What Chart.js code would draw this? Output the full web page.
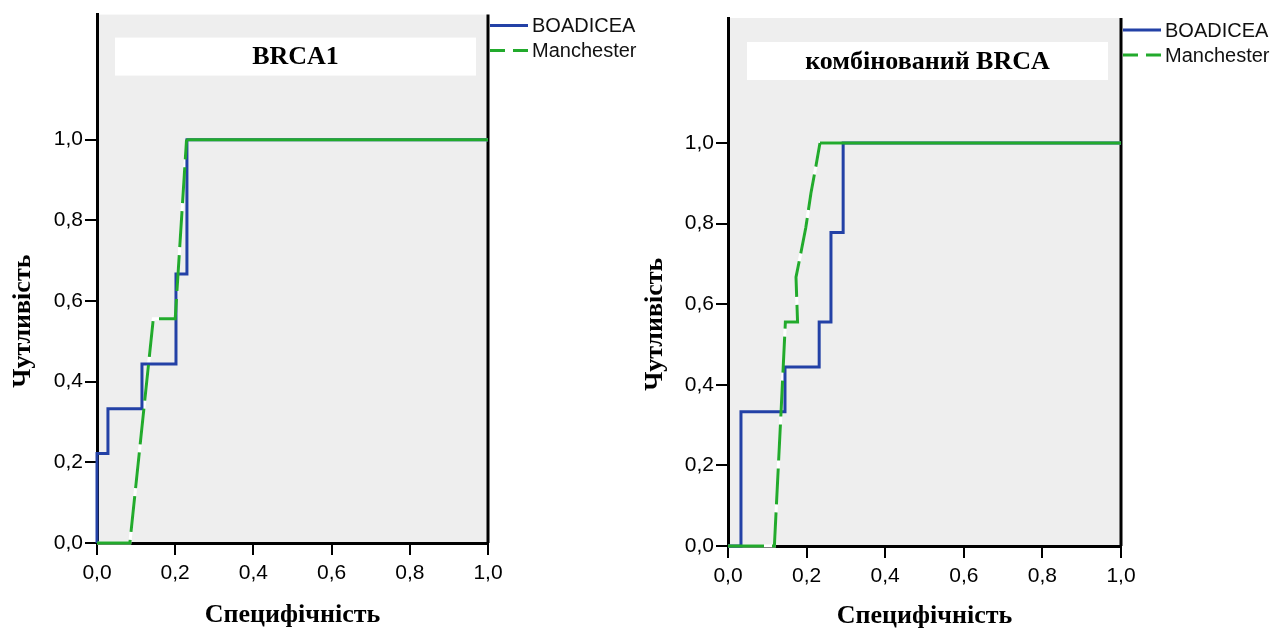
<!DOCTYPE html>
<html>
<head>
<meta charset="utf-8">
<script src="https://cdn.jsdelivr.net/npm/chart.js@4.4.1/dist/chart.umd.min.js"></script>
<style>
    body { margin: 0; background: #fff; }
    #wrap { position: relative; width: 1275px; height: 629px; }
    canvas { position: absolute; top: 0; }
</style>
</head>
<body>
<div id="wrap">
    <canvas id="chartLeft" width="637" height="629" style="left:0"></canvas>
    <canvas id="chartRight" width="638" height="629" style="left:637px"></canvas>
</div>
<script>
/* ---------------------------
   DATA
---------------------------- */
const seriesNames = ["BOADICEA", "Manchester"];
const axisTicks = [0, 0.2, 0.4, 0.6, 0.8, 1.0];

// BRCA1
const boadiceaLeftX = [0, 0, 0.028, 0.028, 0.115, 0.115, 0.202, 0.202, 0.23, 0.23, 1];
const boadiceaLeftY = [0, 0.222, 0.222, 0.333, 0.333, 0.444, 0.444, 0.667, 0.667, 1, 1];
const manchesterLeftX = [0, 0.084, 0.144, 0.2, 0.229, 1];
const manchesterLeftY = [0, 0, 0.556, 0.556, 1, 1];

// комбінований BRCA
const boadiceaRightX = [0, 0.033, 0.033, 0.145, 0.145, 0.232, 0.232, 0.262, 0.262, 0.293, 0.293, 1];
const boadiceaRightY = [0, 0, 0.333, 0.333, 0.444, 0.444, 0.556, 0.556, 0.778, 0.778, 1, 1];
const manchesterRightX = [0, 0.118, 0.135, 0.146, 0.177, 0.173, 0.186, 0.198, 0.211, 0.224, 0.234, 1];
const manchesterRightY = [0, 0, 0.333, 0.556, 0.556, 0.667, 0.73, 0.79, 0.875, 0.944, 1, 1];

const BLUE = "#2341a6";
const GREEN = "#22aa2c";
const MAN_DASH = [36, 8];

function toPoints(xs, ys) {
    return xs.map((x, i) => ({ x: x, y: ys[i] }));
}

function fmt(v) {
    return Number(v).toFixed(1).replace(".", ",");
}

/* ---------------------------
   PLUGINS
---------------------------- */
const plotBackground = {
    id: "plotBackground",
    beforeDraw(chart) {
        const { ctx, chartArea: a } = chart;
        ctx.save();
        ctx.fillStyle = "#eeeeee";
        ctx.fillRect(a.left, a.top, a.right - a.left, a.bottom - a.top);
        ctx.restore();
    },
    beforeDatasetsDraw(chart, args, opts) {
        const { ctx, chartArea: a } = chart;
        ctx.save();
        // right frame line
        ctx.strokeStyle = "#000";
        ctx.lineWidth = 3;
        ctx.beginPath();
        ctx.moveTo(a.right, a.top);
        ctx.lineTo(a.right, a.bottom);
        ctx.stroke();
        // white title box inside the plot
        ctx.fillStyle = "#fff";
        const bx = a.left + opts.boxLeft, by = a.top + opts.boxTop;
        const bw = a.right - opts.boxRight - bx, bh = 38;
        ctx.fillRect(bx, by, bw, bh);
        ctx.fillStyle = "#000";
        ctx.font = "bold 26px 'Liberation Serif'";
        ctx.textAlign = "center";
        ctx.textBaseline = "middle";
        ctx.fillText(opts.title, bx + bw / 2, by + bh / 2 + 1);
        ctx.restore();
    },
    afterDraw(chart, args, opts) {
        const { ctx, chartArea: a, scales } = chart;
        ctx.save();
        // legend, in series order
        const x0 = a.right + 2;
        let y = a.top + opts.legendTop;
        seriesNames.forEach(name => {
            const ds = chart.data.datasets.find(d => d.label === name);
            ctx.strokeStyle = ds.borderColor;
            ctx.lineWidth = 3;
            ctx.setLineDash(ds.legendDash || []);
            ctx.beginPath();
            ctx.moveTo(x0, y);
            ctx.lineTo(x0 + 38, y);
            ctx.stroke();
            ctx.setLineDash([]);
            ctx.fillStyle = "#111";
            ctx.font = "20px 'Liberation Sans'";
            ctx.textAlign = "left";
            ctx.textBaseline = "middle";
            ctx.fillText(ds.label, x0 + 42, y + 1);
            y += 25;
        });
        // y axis title
        ctx.translate(opts.yTitleX, scales.y.getPixelForValue(0.55));
        ctx.rotate(-Math.PI / 2);
        ctx.font = "bold 26px 'Liberation Serif'";
        ctx.fillStyle = "#000";
        ctx.textAlign = "center";
        ctx.textBaseline = "middle";
        ctx.fillText("Чутливість", 0, 0);
        ctx.restore();
    }
};

/* ---------------------------
   CHART BUILDER
---------------------------- */
function makeRoc(canvasId, cfg) {
    const manchesterPts = toPoints(cfg.manX, cfg.manY);
    const tickFont = { family: "Liberation Sans", size: 21 };

    new Chart(document.getElementById(canvasId), {
        type: "scatter",
        data: {
            datasets: [
                {
                    label: seriesNames[1],
                    legendDash: [15, 8],
                    data: manchesterPts,
                    showLine: true,
                    borderColor: GREEN,
                    borderWidth: 3,
                    pointRadius: 0,
                    clip: 4,
                    segment: {
                        borderDash: c => (c.p0.parsed.y >= 1 && c.p1.parsed.y >= 1) ? [] : MAN_DASH
                    }
                },
                {
                    label: seriesNames[0],
                    data: toPoints(cfg.boaX, cfg.boaY),
                    showLine: true,
                    borderColor: BLUE,
                    borderWidth: 3,
                    pointRadius: 0,
                    clip: 4
                },
                {
                    // white under-stroke, shows in the dash gaps
                    label: "",
                    data: manchesterPts,
                    showLine: true,
                    borderColor: "#ffffff",
                    borderWidth: 3,
                    pointRadius: 0,
                    clip: 4
                }
            ]
        },
        options: {
            responsive: false,
            animation: false,
            layout: { padding: { left: 0, top: cfg.top, right: cfg.padRight, bottom: 0 } },
            plugins: {
                legend: { display: false },
                tooltip: { enabled: false },
                plotBackground: {
                    title: cfg.title,
                    boxLeft: cfg.boxLeft,
                    boxRight: cfg.boxRight,
                    boxTop: cfg.boxTop,
                    legendTop: cfg.legendTop,
                    yTitleX: cfg.yTitleX
                }
            },
            scales: {
                x: {
                    type: "linear",
                    min: 0,
                    max: 1,
                    afterBuildTicks: s => { s.ticks = axisTicks.map(v => ({ value: v })); },
                    afterFit: s => { s.height = cfg.xHeight; },
                    grid: { drawOnChartArea: false, tickLength: 12, color: "#000", lineWidth: 2 },
                    border: { display: true, color: "#000", width: 3 },
                    ticks: {
                        padding: 6,
                        color: "#000",
                        font: tickFont,
                        callback: v => fmt(v)
                    },
                    title: {
                        display: true,
                        text: "Специфічність",
                        color: "#000",
                        font: { family: "Liberation Serif", size: 26, weight: "bold" },
                        padding: { top: 0, bottom: cfg.xTitlePad }
                    }
                },
                y: {
                    type: "linear",
                    min: 0,
                    max: 1.31,
                    afterBuildTicks: s => { s.ticks = axisTicks.map(v => ({ value: v })); },
                    afterFit: s => { s.width = cfg.yWidth; },
                    grid: { drawOnChartArea: false, tickLength: 12, color: "#000", lineWidth: 2 },
                    border: { display: true, color: "#000", width: 3 },
                    ticks: {
                        padding: 2,
                        color: "#000",
                        font: tickFont,
                        callback: v => fmt(v)
                    }
                }
            }
        },
        plugins: [plotBackground]
    });
}

makeRoc("chartLeft", {
    title: "BRCA1",
    boaX: boadiceaLeftX, boaY: boadiceaLeftY,
    manX: manchesterLeftX, manY: manchesterLeftY,
    top: 14, padRight: 149, yWidth: 97, xHeight: 86, xTitlePad: -2,
    boxLeft: 18, boxRight: 12, boxTop: 23, legendTop: 11, yTitleX: 23
});

makeRoc("chartRight", {
    title: "комбінований BRCA",
    boaX: boadiceaRightX, boaY: boadiceaRightY,
    manX: manchesterRightX, manY: manchesterRightY,
    top: 18, padRight: 154, yWidth: 91, xHeight: 83, xTitlePad: -3,
    boxLeft: 19, boxRight: 13, boxTop: 24, legendTop: 12, yTitleX: 18
});
</script>
</body>
</html>
